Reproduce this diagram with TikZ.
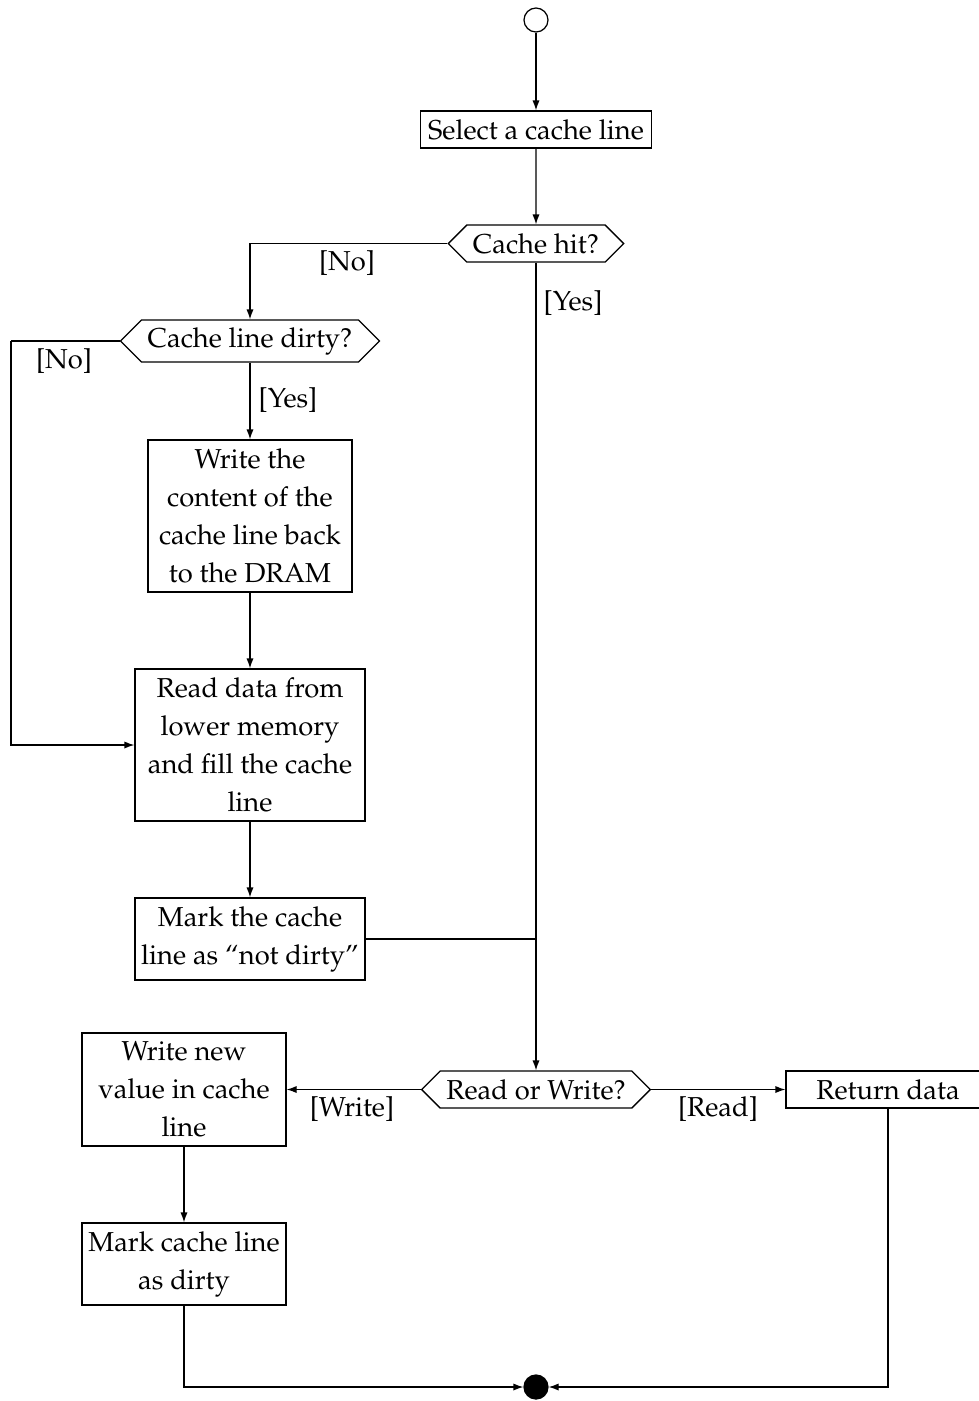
\documentclass[tikz,border=0pt]{standalone}
\usepackage[T1]{fontenc}
\usepackage{mathpazo}
\usetikzlibrary{shapes.symbols,arrows.meta}
\begin{document}
\begin{tikzpicture}[x=0.36pt,y=-0.36pt,
  every node/.style={font=\fontsize{9.85}{13.7}\selectfont},
  box/.style={draw,rectangle,inner sep=0pt,align=center},
  hex/.style={draw,signal,signal to=west and east,signal pointer angle=90,inner xsep=2.2pt,inner ysep=0pt},
  lbl/.style={inner sep=0pt},
  arr/.style={-{Latex[length=3.6pt,width=2.6pt]}},
  line width=0.45pt]
\useasboundingbox (0,0) rectangle (978,1401);
\node[draw,circle,minimum size=24*0.36pt,inner sep=0pt] (start) at (536,20) {};
\node[box,minimum width=231*0.36pt,minimum height=37*0.36pt] (sel) at (536,129.5) {Select a cache line};
\node[hex,minimum height=37*0.36pt] (hit) at (536,243.5) {Cache hit?};
\node[hex,minimum height=42*0.36pt] (dirty) at (250,341) {Cache line dirty?};
\node[box,minimum width=204*0.36pt,minimum height=152*0.36pt] (wb) at (250,516) {Write the\\content of the\\cache line back\\to the DRAM};
\node[box,minimum width=230*0.36pt,minimum height=152*0.36pt] (rd) at (250,745) {Read data from\\lower memory\\and fill the cache\\line};
\node[box,minimum width=230*0.36pt,minimum height=82*0.36pt] (mk) at (250,939) {Mark the cache\\line as ``not dirty''};
\node[hex,minimum height=37*0.36pt] (rw) at (536,1089.5) {Read or Write?};
\node[box,minimum width=204*0.36pt,minimum height=113*0.36pt] (wn) at (184,1089.5) {Write new\\value in cache\\line};
\node[box,minimum width=204*0.36pt,minimum height=82*0.36pt] (mc) at (184,1264) {Mark cache line\\as dirty};
\node[box,minimum width=204*0.36pt,minimum height=37*0.36pt] (ret) at (888,1089.5) {Return data};
\node[draw,fill=black,circle,minimum size=24*0.36pt,inner sep=0pt] (end) at (536,1387) {};
\coordinate (loop) at (11,341);
\coordinate (join) at (536,939);
\draw[arr] (start) -- (sel);
\draw[arr] (sel) -- (hit);
\draw[arr] (hit.west) -| (dirty.north);
\draw[arr] (hit.south) -- (rw.north);
\draw (dirty.west) -- (loop);
\draw[arr] (loop) |- (rd.west);
\draw[arr] (dirty.south) -- (wb.north);
\draw[arr] (wb) -- (rd);
\draw[arr] (rd) -- (mk);
\draw (mk.east) -- (join);
\draw[arr] (rw.west) -- (wn.east);
\draw[arr] (rw.east) -- (ret.west);
\draw[arr] (wn) -- (mc);
\draw[arr] (mc.south) |- (end.west);
\draw[arr] (ret.south) |- (end.east);
\node[lbl] (l1) at (347,263) {[No]};
\node[lbl] (l2) at (573,303) {[Yes]};
\node[lbl] (l3) at (64,361) {[No]};
\node[lbl] (l4) at (288,400) {[Yes]};
\node[lbl] (l5) at (352,1109) {[Write]};
\node[lbl] (l6) at (718,1109) {[Read]};
\end{tikzpicture}
\end{document}
